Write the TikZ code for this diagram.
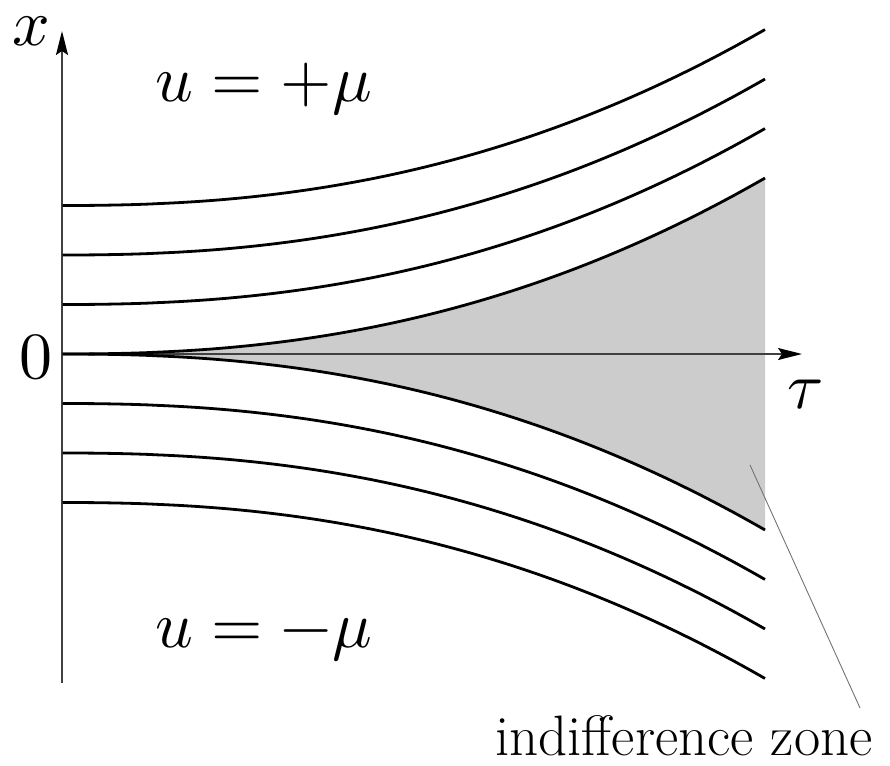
\documentclass[tikz,border=0pt]{standalone}
\usepackage{unicode-math}
\usetikzlibrary{arrows.meta}
\begin{document}
\begin{tikzpicture}[x=1pt,y=-1pt,
  curve/.style={line width=2.8pt,black,line join=round},
  axis/.style={line width=1.8pt,black!75,-{Stealth[length=24pt,width=12pt,inset=4pt,black]}},
  mathlbl/.style={inner sep=0pt,font=\fontsize{66}{74}\selectfont},
  txtlbl/.style={inner sep=0pt,font=\fontsize{57}{64}\selectfont},
  pointer/.style={line width=0.9pt,black!55}]
\useasboundingbox (0,0) rectangle (890,765);
% shaded indifference zone
\fill[black!20] (62,354)
  -- plot[domain=0.5:703,samples=90] ({62+\x},{354-176*(\x/703)^2.3})
  -- (765,530)
  -- plot[domain=703:0.5,samples=90] ({62+\x},{354+176*(\x/703)^2.3})
  -- cycle;
% axes
\coordinate (O) at (62,354);
\coordinate (xbot) at (62,683);
\coordinate (xtip) at (62,31);
\coordinate (ttip) at (802,354);
\draw[axis] (xbot) -- (xtip);
\draw[axis] (O) -- (ttip);
% curves
\foreach \k in {0,1,2,3}{
  \draw[curve] plot[domain=0.5:703,samples=90] ({62+\x},{354-49.5*\k-176*(\x/703)^2.3});
  \draw[curve] plot[domain=0.5:703,samples=90] ({62+\x},{354+49.5*\k+176*(\x/703)^2.3});
}
% labels
\node[mathlbl,anchor=base] (xl) at (31,46) {$x$};
\node[mathlbl,anchor=base] (zl) at (36,378) {$0$};
\node[mathlbl,anchor=base] (tl) at (805,408) {$\tau$};
\node[mathlbl,anchor=base west] (up) at (155,102) {$u=+\mu$};
\node[mathlbl,anchor=base west] (um) at (155,647) {$u=-\mu$};
\node[txtlbl,anchor=base west] (iz) at (495,755) {indifference zone};
\coordinate (ptr) at (750,465);
\coordinate (ptrend) at (860,708);
\draw[pointer] (ptr) -- (ptrend);
\end{tikzpicture}
\end{document}
